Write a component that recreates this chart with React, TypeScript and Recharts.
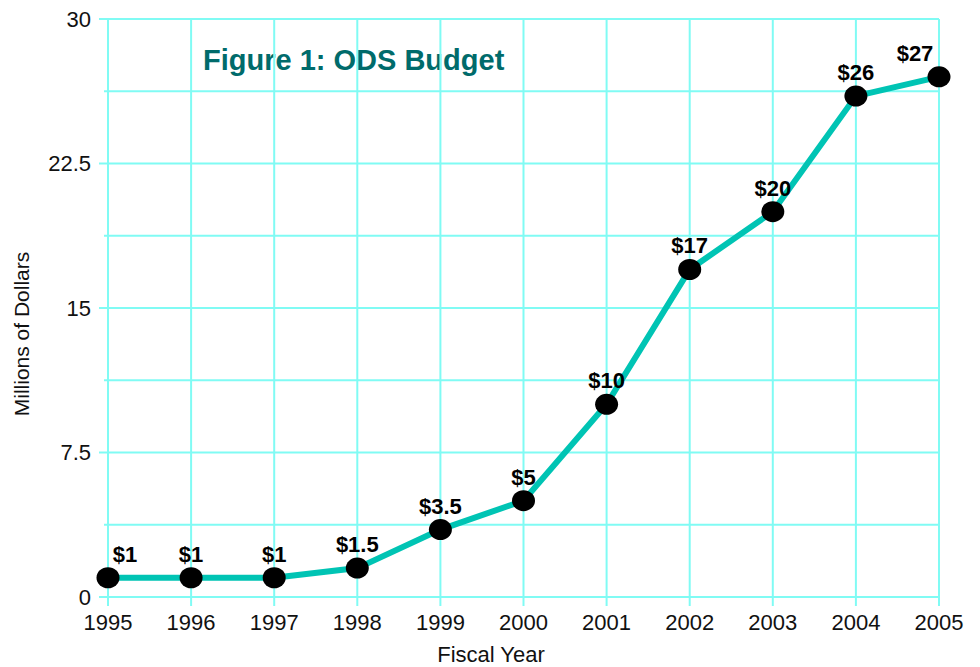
import React from 'react'
import { CartesianGrid, LabelList, Line, LineChart, XAxis, YAxis } from 'recharts'

const YEARS = [1995, 1996, 1997, 1998, 1999, 2000, 2001, 2002, 2003, 2004, 2005]
const BUDGET = [1, 1, 1, 1.5, 3.5, 5, 10, 17, 20, 26, 27]
const Y_TICKS = [0, 3.75, 7.5, 11.25, 15, 18.75, 22.5, 26.25, 30]
const Y_LABELED = [0, 7.5, 15, 22.5, 30]

const data = YEARS.map((year, i) => ({ year, value: BUDGET[i] }))

const GRID = '#80fbf4'
const LINE = '#00c4b4'
const FONT = '"Liberation Sans", Arial, Helvetica, sans-serif'

function YTick({ x, y, payload }: any) {
  const major = Y_LABELED.includes(payload.value)
  return (
    <g>
      <line x1={x - (major ? 9 : 4)} x2={x} y1={y} y2={y} stroke={GRID} strokeWidth={2} />
      {major && (
        <text x={x - 17} y={y} dy="0.36em" textAnchor="end" fontSize={22} fill="#111" fontFamily={FONT}>
          {payload.value}
        </text>
      )}
    </g>
  )
}

function XTick({ x, y, payload }: any) {
  return (
    <g>
      <line x1={x} x2={x} y1={y} y2={y + 9} stroke={GRID} strokeWidth={2} />
      <text x={x} y={y + 33} textAnchor="middle" fontSize={22} fill="#111" fontFamily={FONT}>
        {payload.value}
      </text>
    </g>
  )
}

function Dot({ cx, cy, index }: any) {
  return <ellipse key={index} cx={cx} cy={cy} rx={11.5} ry={10.5} fill="#000" />
}

function ValueLabel({ x, y, value, index }: any) {
  let shift = 0
  if (index === 0) shift = 17
  if (index === BUDGET.length - 1) shift = -24
  return (
    <text
      x={x + shift}
      y={y - 16}
      textAnchor="middle"
      fontSize={22}
      fontWeight="bold"
      fill="#000"
      fontFamily={FONT}
    >
      {`$${value}`}
    </text>
  )
}

export default function App() {
  return (
    <div style={{ position: 'fixed', left: 0, top: 0, width: 980, height: 667, background: '#fff' }}>
      <svg width={980} height={667} style={{ position: 'absolute', left: 0, top: 0 }}>
        <text x={203} y={70} fontSize={29} fontWeight="bold" fill="#006b6b" fontFamily={FONT}>
          Figure 1: ODS Budget
        </text>
      </svg>
      <div style={{ position: 'absolute', left: 0, top: 0 }}>
        <LineChart width={980} height={667} data={data} margin={{ top: 19, right: 41, left: 0, bottom: 0 }}>
          <CartesianGrid stroke={GRID} strokeWidth={2} />
          <XAxis
            dataKey="year"
            type="number"
            domain={[1995, 2005]}
            ticks={YEARS}
            height={70}
            axisLine={false}
            tickLine={false}
            tickSize={0}
            tickMargin={0}
            tick={<XTick />}
            interval={0}
          />
          <YAxis
            type="number"
            domain={[0, 30]}
            ticks={Y_TICKS}
            width={108}
            axisLine={false}
            tickLine={false}
            tickSize={0}
            tickMargin={0}
            tick={<YTick />}
            interval={0}
          />
          <Line
            dataKey="value"
            stroke={LINE}
            strokeWidth={6}
            dot={Dot}
            activeDot={false}
            isAnimationActive={false}
          >
            <LabelList dataKey="value" content={<ValueLabel />} />
          </Line>
        </LineChart>
      </div>
      <svg width={980} height={667} style={{ position: 'absolute', left: 0, top: 0, pointerEvents: 'none' }}>
        <text
          transform="translate(29, 334) rotate(-90)"
          textAnchor="middle"
          fontSize={21}
          fill="#111"
          fontFamily={FONT}
        >
          Millions of Dollars
        </text>
        <text x={491} y={662} textAnchor="middle" fontSize={22} fill="#111" fontFamily={FONT}>
          Fiscal Year
        </text>
      </svg>
    </div>
  )
}
